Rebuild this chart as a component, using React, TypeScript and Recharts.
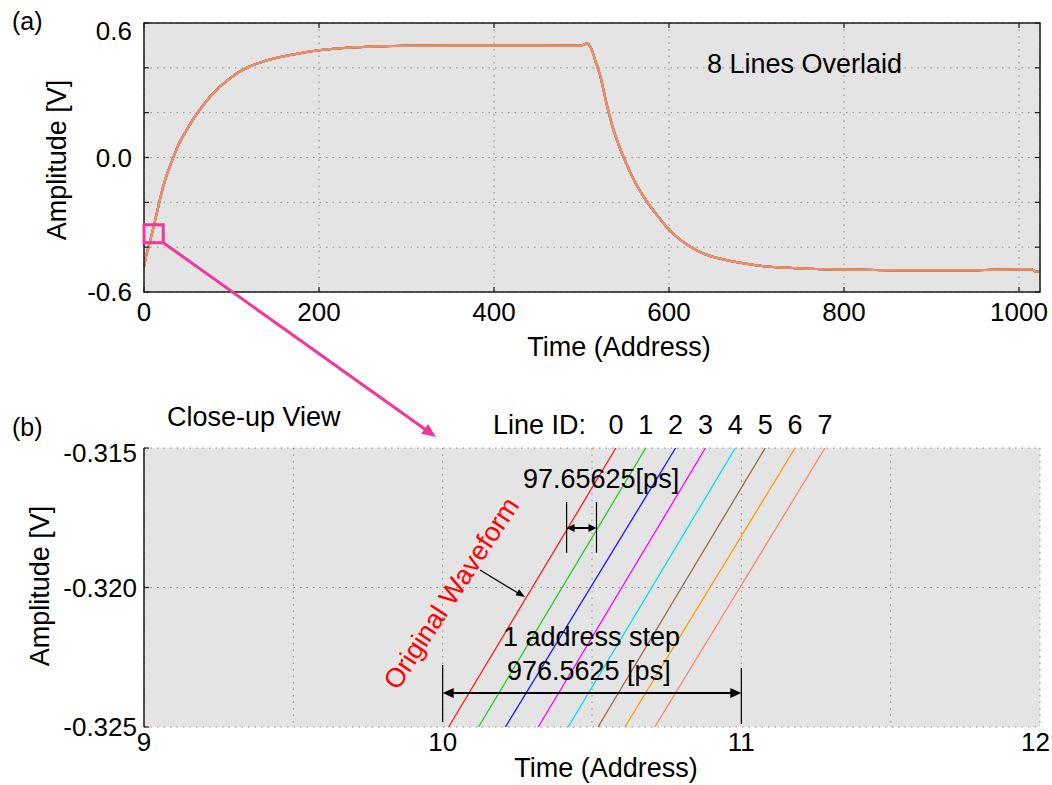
import React from 'react';
import { LineChart, Line, XAxis, YAxis, CartesianGrid } from 'recharts';

const FONT = '"Liberation Sans", Arial, Helvetica, sans-serif';

// (a) the full record
const ADDRESS = [
  0, 3, 7, 10, 13, 16, 20, 25, 30, 35, 41, 48, 56, 64, 72, 80, 91, 100, 110, 120,
  130, 145, 160, 180, 200, 243, 300, 400, 494, 500, 506, 511, 516, 521, 529, 536, 544, 552, 563, 575,
  588, 599, 616, 635, 650, 666, 685, 704, 725, 750, 800, 864, 936, 1009, 1015, 1020, 1023,
];
const AMPLITUDE = [
  -0.488, -0.43, -0.372, -0.325, -0.275, -0.225, -0.158, -0.09, -0.035, 0.015, 0.07, 0.118, 0.17, 0.215, 0.255, 0.29, 0.33, 0.358, 0.385, 0.405,
  0.42, 0.438, 0.452, 0.466, 0.478, 0.492, 0.499, 0.5, 0.499, 0.5, 0.508, 0.487, 0.43, 0.37, 0.234, 0.13, 0.041, -0.034, -0.123, -0.198,
  -0.265, -0.317, -0.376, -0.421, -0.443, -0.458, -0.472, -0.483, -0.49, -0.495, -0.5, -0.503, -0.503, -0.498, -0.5, -0.51, -0.508,
];

// (b) close-up: where each line enters the bottom and leaves the top of the view
const LINE_IDS = [0, 1, 2, 3, 4, 5, 6, 7];
const LINE_COLORS = ['#ff1a1a', '#22cc22', '#1a1aff', '#ff00ff', '#00e0ee', '#9b6a4a', '#f5a300', '#f58a6a'];
const CROSS_LOW = [10.02, 10.12, 10.21, 10.32, 10.42, 10.52, 10.61, 10.71];
const CROSS_HIGH = [10.58, 10.68, 10.78, 10.88, 10.98, 11.08, 11.18, 11.28];
const VIEW_V = [-0.325, -0.315];

const TOP_X_TICKS = [0, 200, 400, 600, 800, 1000];
const TOP_Y_TICKS = [-0.6, -0.4, -0.2, 0, 0.2, 0.4, 0.6];
const TOP_Y_LABELS = ['-0.6', '', '', '0.0', '', '', '0.6'];
const BOT_X_TICKS = [9, 9.5, 10, 10.5, 11, 11.5, 12];
const BOT_X_LABELS = ['9', '', '10', '', '11', '', '12'];
const BOT_Y_TICKS = [-0.325, -0.32, -0.315];

// plot boxes (px) used to place the annotations
const L = 144, R = 1040;
const A_TOP = 23, A_BOT = 292;
const B_TOP = 448, B_BOT = 727;
const ax = (a: number) => L + (a / 1024) * (R - L);
const ay = (v: number) => A_TOP + ((0.6 - v) / 1.2) * (A_BOT - A_TOP);
const bx = (t: number) => L + ((t - 9) / 3) * (R - L);
const by = (v: number) => B_TOP + ((-0.315 - v) / 0.01) * (B_BOT - B_TOP);

const label = (ticks: number[], labels: string[]) => (v: number) => {
  const i = ticks.findIndex((t) => Math.abs(t - v) < 1e-9);
  return i < 0 ? '' : labels[i];
};

const GRID = '#8c8c8c';
const BG = '#e4e4e4';
const PINK = '#f2379c';
const TICK_FS = 26;

// bottom-axis tick; keeps the last label inside the page
function XTick({ x, y, payload, fmt }: any) {
  const s = fmt(payload.value);
  if (!s) return null;
  const half = s.length * TICK_FS * 0.278;
  const cx = Math.min(x, 1050 - half);
  return (
    <text x={cx} y={y} dy="0.71em" textAnchor="middle" fontSize={TICK_FS} fill="#000" fontFamily={FONT}>
      {s}
    </text>
  );
}

// left-axis tick; the top label sits a little lower, as in the original
function YTick({ x, y, payload, fmt, top, drop }: any) {
  const s = fmt(payload.value);
  if (!s) return null;
  const dy = Math.abs(payload.value - top) < 1e-9 ? drop : 0;
  return (
    <text x={x} y={y + dy} dy="0.355em" textAnchor="end" fontSize={TICK_FS} fill="#000" fontFamily={FONT}>
      {s}
    </text>
  );
}

function Head({ x, y, angle, len = 10, half = 4, fill = '#000' }: any) {
  const c = Math.cos(angle), s = Math.sin(angle);
  const px = x - c * len, py = y - s * len;
  return (
    <polygon
      points={`${x},${y} ${px - s * half},${py + c * half} ${px + s * half},${py - c * half}`}
      fill={fill}
    />
  );
}

function Overlay() {
  const bx0 = ax(0), bx1 = ax(22), by0 = ay(-0.3), by1 = ay(-0.38);
  const tip = { x: 436, y: 437 };
  const pinkAng = Math.atan2(tip.y - by1, tip.x - bx1);

  const smallY = 528, bigY = 693;
  const s0 = bx(10.415), s1 = bx(10.515);
  const b0 = bx(10), b1 = bx(11);

  const wfAng = -56.7;
  const TK = 5;
  return (
    <svg
      width={1052}
      height={785}
      style={{ position: 'absolute', left: 0, top: 0, pointerEvents: 'none', fontFamily: FONT }}
    >
      {/* frame of (a) with inward ticks */}
      <rect x={L} y={A_TOP} width={R - L} height={A_BOT - A_TOP} fill="none" stroke="#1a1a1a" strokeWidth={1.5} />
      {TOP_Y_TICKS.map((v) => (
        <g key={'y' + v} stroke="#1a1a1a" strokeWidth={1.2}>
          <line x1={L} y1={ay(v)} x2={L + TK} y2={ay(v)} />
          <line x1={R} y1={ay(v)} x2={R - TK} y2={ay(v)} />
        </g>
      ))}
      {TOP_X_TICKS.map((a) => (
        <g key={'x' + a} stroke="#1a1a1a" strokeWidth={1.2}>
          <line x1={ax(a)} y1={A_BOT} x2={ax(a)} y2={A_BOT - TK} />
          <line x1={ax(a)} y1={A_TOP} x2={ax(a)} y2={A_TOP + TK} />
        </g>
      ))}
      {BOT_Y_TICKS.map((v) => (
        <line key={'by' + v} x1={L} y1={by(v)} x2={L + TK} y2={by(v)} stroke="#1a1a1a" strokeWidth={1.2} />
      ))}

      <text x={12} y={30} fontSize={25}>(a)</text>
      <text x={12} y={436} fontSize={25}>(b)</text>
      <text x={707} y={73} fontSize={27}>8 Lines Overlaid</text>
      <text x={167} y={426} fontSize={27}>Close-up View</text>

      <text x={619} y={356} fontSize={27} textAnchor="middle">Time (Address)</text>
      <text x={606} y={777} fontSize={27} textAnchor="middle">Time (Address)</text>
      <text transform="translate(57,160) rotate(-90)" fontSize={27} textAnchor="middle" dy="0.35em">Amplitude [V]</text>
      <text transform="translate(40,586) rotate(-90)" fontSize={27} textAnchor="middle" dy="0.35em">Amplitude [V]</text>

      {/* zoom marker and pointer */}
      <rect x={bx0} y={by0} width={bx1 - bx0} height={by1 - by0} fill="none" stroke={PINK} strokeWidth={3} />
      <line x1={bx1} y1={by1} x2={tip.x - Math.cos(pinkAng) * 10} y2={tip.y - Math.sin(pinkAng) * 10} stroke={PINK} strokeWidth={3} />
      <Head x={tip.x} y={tip.y} angle={pinkAng} len={14} half={6} fill={PINK} />

      {/* line IDs */}
      <text x={493} y={434} fontSize={27}>Line ID:</text>
      {LINE_IDS.map((id) => (
        <text key={id} x={bx(CROSS_HIGH[id])} y={434} fontSize={27} textAnchor="middle">{id}</text>
      ))}

      {/* 97.65625 ps */}
      <text x={523} y={488} fontSize={27}>97.65625[ps]</text>
      <line x1={s0} y1={502} x2={s0} y2={553} stroke="#000" strokeWidth={1.2} />
      <line x1={s1} y1={502} x2={s1} y2={553} stroke="#000" strokeWidth={1.2} />
      <line x1={s0 + 6} y1={smallY} x2={s1 - 6} y2={smallY} stroke="#000" strokeWidth={2} />
      <Head x={s0} y={smallY} angle={Math.PI} len={8} half={4} />
      <Head x={s1} y={smallY} angle={0} len={8} half={4} />

      {/* 1 address step */}
      <text x={503} y={646} fontSize={27}>1 address step</text>
      <text x={507} y={680} fontSize={27}>976.5625 [ps]</text>
      <line x1={b0} y1={665} x2={b0} y2={722} stroke="#000" strokeWidth={1.2} />
      <line x1={b1} y1={668} x2={b1} y2={724} stroke="#000" strokeWidth={1.2} />
      <line x1={b0 + 8} y1={bigY} x2={b1 - 8} y2={bigY} stroke="#000" strokeWidth={2.2} />
      <Head x={b0} y={bigY} angle={Math.PI} len={11} half={5} />
      <Head x={b1} y={bigY} angle={0} len={11} half={5} />

      {/* original waveform note */}
      <text
        transform={`translate(451,593) rotate(${wfAng})`}
        fontSize={27}
        fill="#ff0000"
        textAnchor="middle"
        dy="0.35em"
      >
        Original Waveform
      </text>
      <line x1={480} y1={570} x2={518} y2={593} stroke="#000" strokeWidth={1.3} />
      <Head x={525} y={597} angle={Math.atan2(27, 45)} len={9} half={3.5} />
    </svg>
  );
}

export default function App() {
  const wave = ADDRESS.map((a, i) => ({ a, v: AMPLITUDE[i] }));
  const closeUp = LINE_IDS.map((id) => [
    { x: CROSS_LOW[id], v: VIEW_V[0] },
    { x: CROSS_HIGH[id], v: VIEW_V[1] },
  ]);
  const topXFmt = (v: number) => String(v);
  const topYFmt = label(TOP_Y_TICKS, TOP_Y_LABELS);
  const botXFmt = label(BOT_X_TICKS, BOT_X_LABELS);
  const botYFmt = (v: number) => v.toFixed(3);

  return (
    <div style={{ position: 'absolute', left: 0, top: 0, width: 1052, height: 785, background: '#fff', fontFamily: FONT }}>
      <div style={{ position: 'absolute', left: 0, top: 0 }}>
        <LineChart width={1052} height={340} data={wave} margin={{ top: A_TOP, right: 1052 - R, bottom: 8, left: 0 }}>
          <CartesianGrid stroke={GRID} strokeDasharray="1.5 5" fill={BG} fillOpacity={1} />
          <XAxis
            dataKey="a"
            type="number"
            domain={[0, 1024]}
            ticks={TOP_X_TICKS}
            interval={0}
            height={40}
            axisLine={false}
            tickLine={false}
            tickSize={0}
            tickMargin={11}
            tick={<XTick fmt={topXFmt} />}
          />
          <YAxis
            type="number"
            domain={[-0.6, 0.6]}
            ticks={TOP_Y_TICKS}
            interval={0}
            width={L}
            axisLine={false}
            tickLine={false}
            tickSize={0}
            tickMargin={12}
            tick={<YTick fmt={topYFmt} top={0.6} drop={8} />}
          />
          {LINE_IDS.map((id) => (
            <Line
              key={id}
              type="monotone"
              dataKey="v"
              stroke={LINE_COLORS[id]}
              strokeWidth={2}
              dot={false}
              isAnimationActive={false}
            />
          ))}
        </LineChart>
      </div>

      <div style={{ position: 'absolute', left: 0, top: 400 }}>
        <LineChart width={1052} height={385} margin={{ top: B_TOP - 400, right: 1052 - R, bottom: 18, left: 0 }}>
          <CartesianGrid stroke={GRID} strokeDasharray="1.5 5" fill={BG} fillOpacity={1} />
          <XAxis
            dataKey="x"
            type="number"
            domain={[9, 12]}
            ticks={BOT_X_TICKS}
            interval={0}
            allowDataOverflow
            height={40}
            axisLine={false}
            tickLine={false}
            tickSize={0}
            tickMargin={6}
            tick={<XTick fmt={botXFmt} />}
          />
          <YAxis
            type="number"
            domain={[-0.325, -0.315]}
            ticks={BOT_Y_TICKS}
            interval={0}
            allowDataOverflow
            width={L}
            axisLine={{ stroke: '#1a1a1a', strokeWidth: 1.5 }}
            tickLine={false}
            tickSize={0}
            tickMargin={7}
            tick={<YTick fmt={botYFmt} top={-0.315} drop={5} />}
          />
          {LINE_IDS.map((id) => (
            <Line
              key={id}
              data={closeUp[id]}
              type="linear"
              dataKey="v"
              stroke={LINE_COLORS[id]}
              strokeWidth={1.3}
              dot={false}
              isAnimationActive={false}
            />
          ))}
        </LineChart>
      </div>

      <Overlay />
    </div>
  );
}
